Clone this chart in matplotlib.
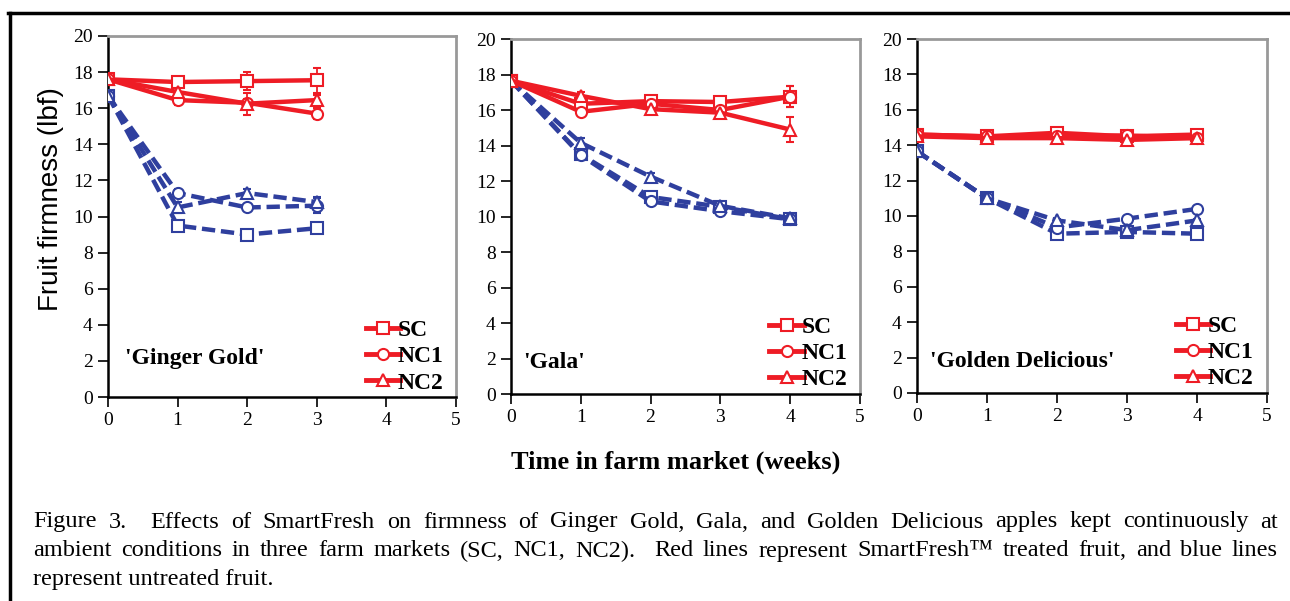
import numpy as np
import matplotlib
matplotlib.use("Agg")
import matplotlib.pyplot as plt
from matplotlib.lines import Line2D

RED = "#ee1c25"
BLUE = "#2f3f9e"

markets = ["SC", "NC1", "NC2"]
markers = ["s", "o", "^"]
cultivars = ["'Ginger Gold'", "'Gala'", "'Golden Delicious'"]
weeks = [[0, 1, 2, 3], [0, 1, 2, 3, 4], [0, 1, 2, 3, 4]]

# SmartFresh treated (red), per cultivar, per market
treated = [
    [[17.6, 17.45, 17.5, 17.55], [17.6, 16.45, 16.3, 15.7], [17.6, 16.9, 16.25, 16.45]],
    [[17.65, 16.35, 16.5, 16.45, 16.75], [17.65, 15.9, 16.35, 16.0, 16.75], [17.65, 16.8, 16.05, 15.85, 14.9]],
    [[14.6, 14.5, 14.7, 14.5, 14.6], [14.6, 14.5, 14.5, 14.55, 14.4], [14.5, 14.4, 14.4, 14.3, 14.4]],
]
treated_err = [
    [[0.1, 0.2, 0.5, 0.7], [0.1, 0.3, 0.2, 0.3], [0.1, 0.2, 0.6, 0.3]],
    [[0.1, 0.2, 0.2, 0.3, 0.6], [0.1, 0.2, 0.2, 0.2, 0.6], [0.1, 0.2, 0.2, 0.2, 0.7]],
    [[0.1, 0.1, 0.2, 0.1, 0.1], [0.1, 0.1, 0.1, 0.1, 0.1], [0.1, 0.1, 0.1, 0.1, 0.1]],
]
# untreated (blue)
untreated = [
    [[16.7, 9.5, 9.0, 9.35], [16.7, 11.3, 10.5, 10.6], [16.7, 10.5, 11.3, 10.8]],
    [[17.65, 13.5, 11.1, 10.55, 9.85], [17.65, 13.45, 10.85, 10.3, 9.85], [17.65, 14.15, 12.25, 10.6, 9.9]],
    [[13.65, 11.0, 9.0, 9.1, 9.0], [13.65, 11.0, 9.35, 9.85, 10.4], [13.65, 11.0, 9.75, 9.2, 9.75]],
]
untreated_err = [
    [[0.1, 0.2, 0.2, 0.2], [0.1, 0.2, 0.2, 0.4], [0.1, 0.3, 0.2, 0.3]],
    [[0.1, 0.2, 0.3, 0.2, 0.2], [0.1, 0.2, 0.2, 0.2, 0.2], [0.1, 0.3, 0.2, 0.2, 0.2]],
    [[0.1, 0.1, 0.1, 0.1, 0.1], [0.1, 0.1, 0.1, 0.1, 0.1], [0.1, 0.1, 0.1, 0.1, 0.1]],
]

caption = [
    "Figure 3.  Effects of SmartFresh on firmness of Ginger Gold, Gala, and Golden Delicious apples kept continuously at",
    "ambient conditions in three farm markets (SC, NC1, NC2).  Red lines represent SmartFresh\u2122 treated fruit, and blue lines",
    "represent untreated fruit.",
]

plt.rcParams["font.family"] = "Liberation Serif"

W, H = 1290, 601
fig = plt.figure(figsize=(W / 100, H / 100), dpi=100)

# axes rectangles in figure fraction
rects = [
    [0.0837, 0.3394, 0.2698, 0.6007],
    [0.3961, 0.3444, 0.2705, 0.5907],
    [0.7109, 0.3461, 0.2713, 0.5890],
]
label_pos = [(0.05, 0.108), (0.035, 0.09), (0.037, 0.088)]

for i, rect in enumerate(rects):
    ax = fig.add_axes(rect)
    x = weeks[i]
    for j in range(3):
        ax.errorbar(x, untreated[i][j], yerr=untreated_err[i][j], color=BLUE,
                    lw=3.2, dashes=(3.0, 1.3), marker=markers[j], ms=8,
                    mfc="white", mec=BLUE, mew=1.5, capsize=3, elinewidth=1.3,
                    zorder=3)
    for j in range(3):
        ax.errorbar(x, treated[i][j], yerr=treated_err[i][j], color=RED,
                    lw=3.2, marker=markers[j], ms=8, mfc="white", mec=RED,
                    mew=1.5, capsize=3, elinewidth=1.3, zorder=4)

    ax.set_xlim(0, 5)
    ax.set_ylim(0, 20)
    ax.set_xticks(range(6))
    ax.set_yticks(range(0, 21, 2))
    ax.tick_params(direction="out", length=7, width=1.2, labelsize=14,
                   pad=4)
    for side in ["left", "bottom"]:
        ax.spines[side].set_color("black")
        ax.spines[side].set_linewidth(1.8)
    for side in ["top", "right"]:
        ax.spines[side].set_color("#999999")
        ax.spines[side].set_linewidth(2)

    ax.text(label_pos[i][0], label_pos[i][1], cultivars[i], transform=ax.transAxes,
            fontsize=17, fontweight="bold", va="center", ha="left")

    handles = [Line2D([], [], color=RED, lw=3.5, marker=m, ms=8, mfc="white",
                      mec=RED, mew=1.5) for m in markers]
    ax.legend(handles, markets, loc="lower left", bbox_to_anchor=(0.70, -0.03),
              frameon=False, handlelength=1.45, handletextpad=-0.1,
              labelspacing=0.2, borderaxespad=0.2,
              prop={"family": "Liberation Serif", "weight": "bold", "size": 17})

    if i == 0:
        ax.set_ylabel("Fruit firmness (lbf)", family="Liberation Sans",
                      fontsize=20)
        ax.yaxis.set_label_coords(-0.125, 0.548)

fig.text(0.524, 0.231, "Time in farm market (weeks)", ha="center", va="center",
         fontsize=19, fontweight="bold")

# caption, first two lines justified between x=33 and x=1278 px
renderer = fig.canvas.get_renderer()
x0, x1 = 33, 1278
for k, line in enumerate(caption):
    y = 1 - (522 + 29 * k) / H
    if k == len(caption) - 1:
        fig.text(x0 / W, y, line, ha="left", va="center", fontsize=17.5)
        continue
    tokens = line.split(" ")
    texts = [fig.text(0, y, t, ha="left", va="center", fontsize=17.5) for t in tokens]
    widths = [t.get_window_extent(renderer).width if tok else 0
              for t, tok in zip(texts, tokens)]
    gap = (x1 - x0 - sum(widths)) / (len(tokens) - 1)
    pos = x0
    for t, w in zip(texts, widths):
        t.set_x(pos / W)
        pos += w + gap

# frame around the figure (top and left)
fig.add_artist(Line2D([8 / W, 1], [1 - 13 / H] * 2, color="black", lw=2.5))
fig.add_artist(Line2D([10 / W] * 2, [0, 1 - 13 / H], color="black", lw=2.5))

fig.savefig("out.png", dpi=100)
